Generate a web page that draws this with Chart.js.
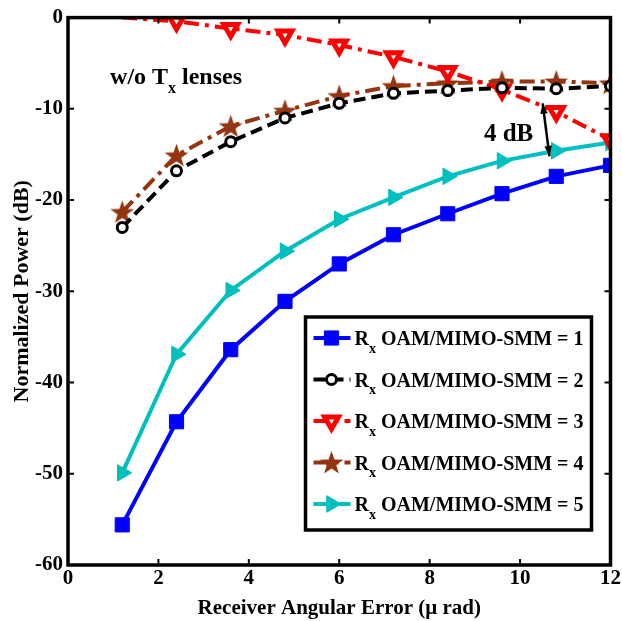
<!DOCTYPE html>
<html>
<head>
<meta charset="utf-8">
<script src="https://cdn.jsdelivr.net/npm/chart.js@4.4.0/dist/chart.umd.min.js"></script>
<style>
  html, body { margin: 0; padding: 0; background: #fff; }
  canvas { display: block; }
</style>
</head>
<body>
<canvas id="c" width="622" height="621"></canvas>
<script>
// --------------------
// Data
// --------------------
const angErr = [1.2, 2.4, 3.6, 4.8, 6.0, 7.2, 8.4, 9.6, 10.8, 12.0];
const smm1 = [-55.6, -44.3, -36.4, -31.1, -27.0, -23.8, -21.5, -19.3, -17.4, -16.2];
const smm2 = [-23.0, -16.8, -13.6, -11.0, -9.4, -8.3, -8.0, -7.7, -7.8, -7.5];
const smm3 = [0.0, -0.4, -1.2, -1.9, -3.0, -4.3, -5.9, -7.9, -10.3, -13.4];
const smm4 = [-21.3, -15.1, -11.9, -10.2, -8.6, -7.5, -7.2, -7.0, -7.0, -7.2];
const smm5 = [-49.9, -36.9, -29.9, -25.6, -22.1, -19.7, -17.4, -15.7, -14.6, -13.7];
const smmIds = ['1', '2', '3', '4', '5'];

const xTicks = [0, 2, 4, 6, 8, 10, 12];
const yTicks = [0, -10, -20, -30, -40, -50, -60];

const FONT = '"Liberation Serif", "Times New Roman", serif';

// filled five-point star (Chart.js 'star' is only an asterisk)
function makeStar(color, size) {
  const cv = document.createElement('canvas');
  cv.width = size; cv.height = size;
  const g = cv.getContext('2d');
  const c = size / 2, ro = size / 2, ri = size * 0.2;
  g.beginPath();
  for (let i = 0; i < 10; i++) {
    const r = i % 2 ? ri : ro;
    const a = -Math.PI / 2 + i * Math.PI / 5;
    g.lineTo(c + r * Math.cos(a), c + r * Math.sin(a) + 1);
  }
  g.closePath();
  g.fillStyle = color;
  g.fill();
  return cv;
}

const brown = '#933510';
const starImg = makeStar(brown, 25);

const pts = ys => ys.map((y, i) => ({ x: angErr[i], y }));

const datasets = [
  {
    data: pts(smm1), borderColor: '#0000ff', borderWidth: 4,
    pointStyle: 'rect', pointRadius: 10, pointBackgroundColor: '#0000ff',
    pointBorderColor: '#0000ff', pointBorderWidth: 1
  },
  {
    data: pts(smm2), borderColor: '#000000', borderWidth: 4, borderDash: [12, 6],
    pointStyle: 'circle', pointRadius: 5, pointBackgroundColor: '#ffffff',
    pointBorderColor: '#000000', pointBorderWidth: 3
  },
  {
    data: pts(smm3), borderColor: '#ff0000', borderWidth: 4, borderDash: [15, 6, 4, 6],
    pointStyle: 'triangle', pointRotation: 180,
    pointRadius: [0, 8, 8, 8, 8, 8, 8, 8, 8, 8],
    pointBackgroundColor: '#ffffff', pointBorderColor: '#ff0000', pointBorderWidth: 5
  },
  {
    data: pts(smm4), borderColor: brown, borderWidth: 4, borderDash: [15, 6, 4, 6],
    pointStyle: starImg, pointRadius: 12
  },
  {
    data: pts(smm5), borderColor: '#00bfbf', borderWidth: 4,
    pointStyle: 'triangle', pointRotation: 90, pointRadius: 9.5,
    pointBackgroundColor: '#00bfbf', pointBorderColor: '#00bfbf', pointBorderWidth: 1
  }
];

// text with a subscript piece: parts = [[text, isSub], ...]
function drawSubText(ctx, parts, x, y, size) {
  let cx = x;
  parts.forEach(([t, sub]) => {
    ctx.font = 'bold ' + (sub ? Math.round(size * 0.68) : size) + 'px ' + FONT;
    ctx.fillText(t, cx, sub ? y + size * 0.38 : y);
    cx += ctx.measureText(t).width;
  });
  return cx;
}

const framePlugin = {
  id: 'frame',
  afterDraw(chart) {
    const { ctx, chartArea: a, scales } = chart;
    const xs = scales.x, ys = scales.y;
    ctx.save();
    ctx.strokeStyle = '#000';
    ctx.fillStyle = '#000';

    // inward ticks
    ctx.lineWidth = 2;
    ctx.beginPath();
    xTicks.forEach(v => {
      const px = xs.getPixelForValue(v);
      ctx.moveTo(px, a.bottom); ctx.lineTo(px, a.bottom - 6);
      ctx.moveTo(px, a.top); ctx.lineTo(px, a.top + 6);
    });
    yTicks.forEach(v => {
      const py = ys.getPixelForValue(v);
      ctx.moveTo(a.left, py); ctx.lineTo(a.left + 6, py);
      ctx.moveTo(a.right, py); ctx.lineTo(a.right - 6, py);
    });
    ctx.stroke();

    // axes box
    ctx.lineWidth = 3.5;
    ctx.strokeRect(a.left, a.top, a.right - a.left, a.bottom - a.top);

    // notes
    ctx.textAlign = 'left';
    ctx.textBaseline = 'alphabetic';
    drawSubText(ctx, [['w/o T', false], ['x', true], [' lenses', false]],
      xs.getPixelForValue(0.93), ys.getPixelForValue(-7.3), 24);
    drawSubText(ctx, [['4 dB', false]],
      xs.getPixelForValue(9.2), ys.getPixelForValue(-13.55), 25);

    // 4 dB double arrow
    const x1 = xs.getPixelForValue(10.5), y1 = ys.getPixelForValue(-9.4);
    const x2 = xs.getPixelForValue(10.65), y2 = ys.getPixelForValue(-15.2);
    ctx.lineWidth = 2.5;
    ctx.beginPath(); ctx.moveTo(x1, y1); ctx.lineTo(x2, y2); ctx.stroke();
    const head = (tx, ty, fx, fy) => {
      const ang = Math.atan2(ty - fy, tx - fx);
      ctx.beginPath();
      ctx.moveTo(tx, ty);
      ctx.lineTo(tx - 11 * Math.cos(ang - 0.35), ty - 11 * Math.sin(ang - 0.35));
      ctx.lineTo(tx - 11 * Math.cos(ang + 0.35), ty - 11 * Math.sin(ang + 0.35));
      ctx.closePath();
      ctx.fill();
    };
    head(x1, y1, x2, y2);
    head(x2, y2, x1, y1);

    // legend
    const lw = 286, lh = 213;
    const lx = a.right - 19 - lw, ly = a.bottom - 35 - lh;
    ctx.fillStyle = '#fff';
    ctx.fillRect(lx, ly, lw, lh);
    ctx.lineWidth = 3.5;
    ctx.strokeRect(lx, ly, lw, lh);
    chart.data.datasets.forEach((ds, i) => {
      const cy = ly + 21 + i * 41.5;
      ctx.save();
      ctx.strokeStyle = ds.borderColor;
      ctx.lineWidth = ds.borderWidth;
      ctx.setLineDash(ds.borderDash || []);
      ctx.beginPath(); ctx.moveTo(lx + 8, cy); ctx.lineTo(lx + 45, cy); ctx.stroke();
      ctx.setLineDash([]);
      ctx.fillStyle = ds.pointBackgroundColor || ds.borderColor;
      ctx.strokeStyle = ds.pointBorderColor || ds.borderColor;
      ctx.lineWidth = ds.pointBorderWidth || 1;
      const r = Array.isArray(ds.pointRadius) ? ds.pointRadius[1] : ds.pointRadius;
      Chart.helpers.drawPoint(ctx, {
        pointStyle: ds.pointStyle, rotation: ds.pointRotation || 0,
        radius: r, borderWidth: ds.pointBorderWidth || 1
      }, lx + 26, cy);
      ctx.restore();
      ctx.fillStyle = '#000';
      drawSubText(ctx, [['R', false], ['x', true], [' OAM/MIMO-SMM = ' + smmIds[i], false]],
        lx + 49, cy + 7, 20);
    });
    ctx.restore();
  }
};

new Chart(document.getElementById('c'), {
  type: 'line',
  data: { datasets },
  options: {
    responsive: false,
    animation: false,
    layout: { padding: { top: 16, right: 10, left: 0, bottom: 0 }, autoPadding: false },
    plugins: { legend: { display: false }, tooltip: { enabled: false } },
    scales: {
      x: {
        type: 'linear', min: 0, max: 12,
        grid: { display: false, drawTicks: false }, border: { display: false },
        ticks: {
          stepSize: 2, color: '#000', padding: 1, maxRotation: 0,
          font: { family: FONT, size: 21, weight: 'bold' }
        },
        title: {
          display: true, text: 'Receiver Angular Error (\u03bc rad)', color: '#000',
          font: { family: FONT, size: 21, weight: 'bold' }, padding: { top: 5, bottom: 0 }
        },
        afterFit(s) { s.height = 56; }
      },
      y: {
        min: -60, max: 0,
        grid: { display: false, drawTicks: false }, border: { display: false },
        ticks: {
          stepSize: 10, color: '#000', padding: 5,
          font: { family: FONT, size: 21, weight: 'bold' }
        },
        title: {
          display: true, text: 'Normalized Power (dB)', color: '#000',
          font: { family: FONT, size: 22, weight: 'bold' }, padding: { top: 9, bottom: 0 }
        },
        afterFit(s) { s.width = 68; }
      }
    }
  },
  plugins: [framePlugin]
});
</script>
</body>
</html>
